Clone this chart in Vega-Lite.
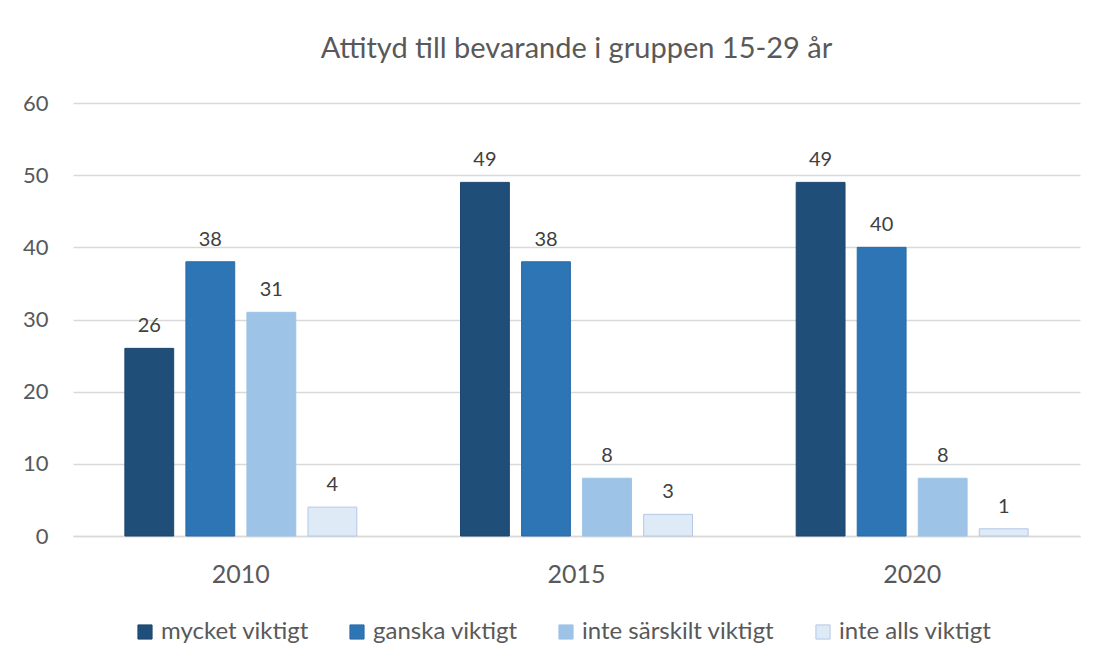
{
  "$schema": "https://vega.github.io/schema/vega-lite/v6.json",
  "width": 1007,
  "height": 433,
  "autosize": {"type": "none"},
  "padding": {"left": 73, "top": 103, "right": 18, "bottom": 130},
  "background": "white",
  "config": {
    "font": "Lato",
    "view": {"stroke": null},
    "axis": {"labelFont": "Lato", "labelColor": "#595959"},
    "legend": {"labelFont": "Lato"}
  },
  "title": {
    "text": "Attityd till bevarande i gruppen 15-29 år",
    "anchor": "middle",
    "fontSize": 29,
    "fontWeight": "normal",
    "color": "#595959",
    "offset": 28,
    "font": "Lato"
  },
  "data": {
    "values": [
      {"year": "2010", "series": "mycket viktigt", "value": 26},
      {"year": "2010", "series": "ganska viktigt", "value": 38},
      {"year": "2010", "series": "inte särskilt viktigt", "value": 31},
      {"year": "2010", "series": "inte alls viktigt", "value": 4},
      {"year": "2015", "series": "mycket viktigt", "value": 49},
      {"year": "2015", "series": "ganska viktigt", "value": 38},
      {"year": "2015", "series": "inte särskilt viktigt", "value": 8},
      {"year": "2015", "series": "inte alls viktigt", "value": 3},
      {"year": "2020", "series": "mycket viktigt", "value": 49},
      {"year": "2020", "series": "ganska viktigt", "value": 40},
      {"year": "2020", "series": "inte särskilt viktigt", "value": 8},
      {"year": "2020", "series": "inte alls viktigt", "value": 1}
    ]
  },
  "encoding": {
    "x": {
      "field": "year",
      "type": "nominal",
      "scale": {"paddingInner": 0.309, "paddingOuter": 0.1545},
      "axis": {
        "title": null,
        "labelAngle": 0,
        "labelFontSize": 25,
        "labelPadding": 26,
        "ticks": false,
        "domainColor": "#D9D9D9",
        "domainWidth": 1.5
      }
    },
    "xOffset": {
      "field": "series",
      "type": "nominal",
      "sort": ["mycket viktigt", "ganska viktigt", "inte särskilt viktigt", "inte alls viktigt"],
      "scale": {"paddingInner": 0.2, "paddingOuter": 0}
    },
    "y": {
      "field": "value",
      "type": "quantitative",
      "scale": {"domain": [0, 60]},
      "axis": {
        "title": null,
        "values": [0, 10, 20, 30, 40, 50, 60],
        "labelOverlap": false,
        "labelFontSize": 22,
        "labelPadding": 25,
        "ticks": false,
        "domain": false,
        "gridColor": "#D9D9D9",
        "gridWidth": 1.3
      }
    }
  },
  "layer": [
    {
      "mark": {"type": "bar", "strokeWidth": 1},
      "encoding": {
        "color": {
          "field": "series",
          "type": "nominal",
          "sort": ["mycket viktigt", "ganska viktigt", "inte särskilt viktigt", "inte alls viktigt"],
          "scale": {
            "domain": ["mycket viktigt", "ganska viktigt", "inte särskilt viktigt", "inte alls viktigt"],
            "range": ["#1F4E79", "#2E75B6", "#9DC3E6", "#DEEBF7"]
          },
          "legend": {
            "title": null,
            "orient": "none",
            "legendX": 60,
            "legendY": 517,
            "direction": "horizontal",
            "symbolType": "square",
            "symbolSize": 200,
            "symbolStrokeWidth": 1,
            "labelFontSize": 24,
            "labelLimit": 400,
            "labelColor": "#595959",
            "columnPadding": 36,
            "labelOffset": 4
          }
        },
        "stroke": {
          "field": "series",
          "type": "nominal",
          "scale": {
            "domain": ["mycket viktigt", "ganska viktigt", "inte särskilt viktigt", "inte alls viktigt"],
            "range": ["#1C4670", "#2A6BA6", "#9DC3E6", "#B4C7E7"]
          },
          "legend": null
        }
      }
    },
    {
      "mark": {"type": "text", "dy": -22, "fontSize": 20, "color": "#404040", "font": "Lato"},
      "encoding": {
        "text": {"field": "value", "type": "quantitative"}
      }
    }
  ]
}
